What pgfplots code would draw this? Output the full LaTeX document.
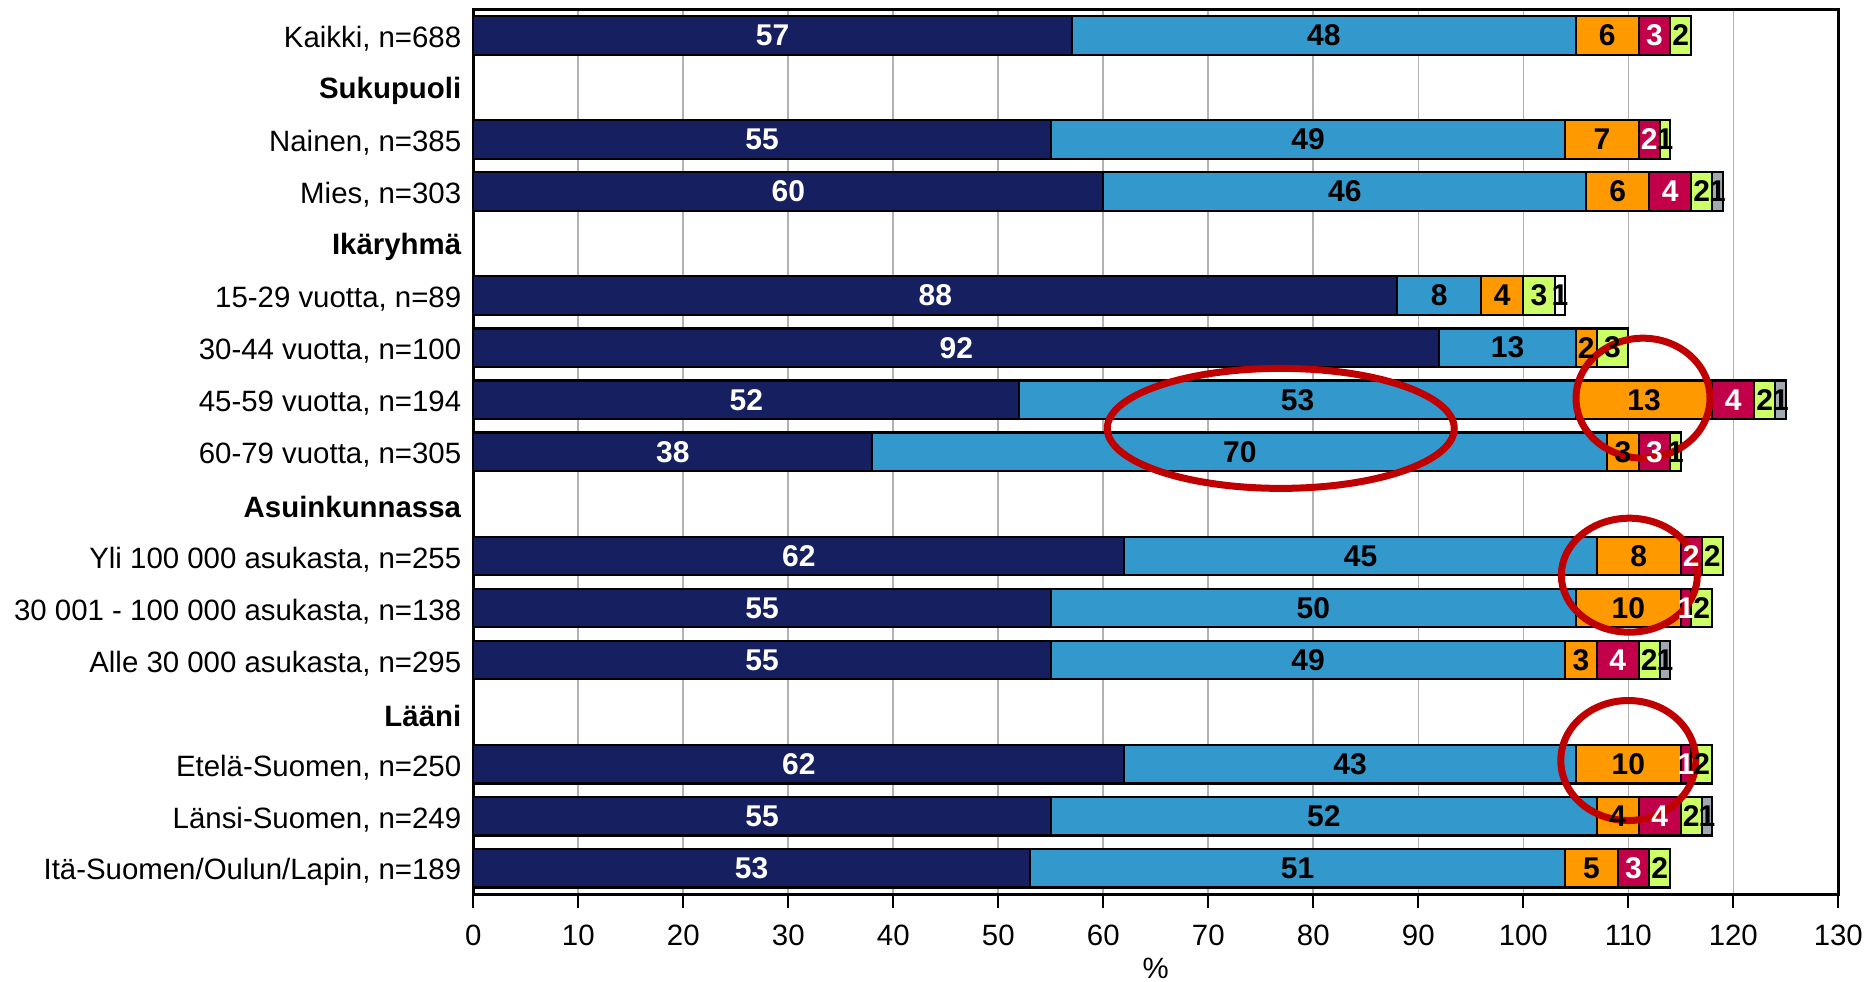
\documentclass[border=0pt]{standalone}
\usepackage{fontspec}
\setmainfont{Liberation Sans}
\usepackage{pgfplots}
\usepackage{pgfplotstable}
\pgfplotsset{compat=1.18}

\definecolor{navy}{HTML}{162060}
\definecolor{sky}{HTML}{3399CC}
\definecolor{orng}{HTML}{FF9900}
\definecolor{crim}{HTML}{C2004A}
\definecolor{lgreen}{HTML}{CCFF66}
\definecolor{slate}{HTML}{A0A8B2}
\definecolor{ringred}{HTML}{C00000}

% rows 1, 4, 9, 13 are the group headings (no bars)
\pgfplotstableread{
row a  b  c  d e f g
0   57 48 6  3 2 0 0
2   55 49 7  2 1 0 0
3   60 46 6  4 2 1 0
5   88 8  4  0 3 0 1
6   92 13 2  0 3 0 0
7   52 53 13 4 2 1 0
8   38 70 3  3 1 0 0
10  62 45 8  2 2 0 0
11  55 50 10 1 2 0 0
12  55 49 3  4 2 1 0
14  62 43 10 1 2 0 0
15  55 52 4  4 2 1 0
16  53 51 5  3 2 0 0
}\data

% middle of every segment, for the value labels
\pgfplotstablecreatecol[create col/expr={\thisrow{a}/2}]{ma}{\data}
\pgfplotstablecreatecol[create col/expr={\thisrow{a}+\thisrow{b}/2}]{mb}{\data}
\pgfplotstablecreatecol[create col/expr={\thisrow{a}+\thisrow{b}+\thisrow{c}/2}]{mc}{\data}
\pgfplotstablecreatecol[create col/expr={\thisrow{a}+\thisrow{b}+\thisrow{c}+\thisrow{d}/2}]{md}{\data}
\pgfplotstablecreatecol[create col/expr={\thisrow{a}+\thisrow{b}+\thisrow{c}+\thisrow{d}+\thisrow{e}/2}]{me}{\data}
\pgfplotstablecreatecol[create col/expr={\thisrow{a}+\thisrow{b}+\thisrow{c}+\thisrow{d}+\thisrow{e}+\thisrow{f}/2}]{mf}{\data}
\pgfplotstablecreatecol[create col/expr={\thisrow{a}+\thisrow{b}+\thisrow{c}+\thisrow{d}+\thisrow{e}+\thisrow{f}+\thisrow{g}/2}]{mg}{\data}

\pgfplotsset{
  frame/.style={
    scale only axis, width=682.5pt, height=442.5pt,
    xmin=0, xmax=130, ymin=-0.5, ymax=16.5, y dir=reverse,
  },
  seg/.style={fill=#1, draw=black, line width=1.1pt},
  lab/.style n args={2}{
    draw=none, mark=none,
    nodes near coords, point meta=explicit symbolic,
    x filter/.expression={\thisrow{#2}==0 ? nan : x},
    unbounded coords=discard,
    every node near coord/.append style={
      text=#1, anchor=center, inner sep=0pt,
      font=\fontsize{15}{17}\selectfont\bfseries},
  },
}

\begin{document}
\begin{tikzpicture}
\begin{axis}[
  frame,
  xbar stacked, bar width=0.74,
  xtick={0,10,...,130}, xtick pos=left, tick align=outside,
  major tick length=7pt,
  x tick style={black, line width=1pt},
  ytick={0,...,16}, y tick style={draw=none},
  yticklabels={
    {Kaikki, n=688\hspace{3.5pt}},
    {\textbf{Sukupuoli}\hspace{3.5pt}},
    {Nainen, n=385},
    {Mies, n=303\hspace{3pt}},
    {\textbf{Ikäryhmä}\hspace{3.5pt}},
    {15-29 vuotta, n=89},
    {30-44 vuotta, n=100},
    {45-59 vuotta, n=194},
    {60-79 vuotta, n=305},
    {\textbf{Asuinkunnassa}\hspace{3.5pt}},
    {Yli 100 000 asukasta, n=255},
    {30 001 - 100 000 asukasta, n=138},
    {Alle 30 000 asukasta, n=295},
    {\textbf{Lääni}\hspace{3.5pt}},
    {Etelä-Suomen, n=250},
    {Länsi-Suomen, n=249},
    {Itä-Suomen/Oulun/Lapin, n=189\hspace{-5pt}}},
  /pgf/number format/assume math mode=true,
  ticklabel style={font=\fontsize{14.7}{17}\selectfont},
  yticklabel style={xshift=4.5pt, yshift=-1.8pt},
  xticklabel style={yshift=-5pt},
  xlabel={\%},
  xlabel style={font=\fontsize{14.7}{17}\selectfont, at={(axis description cs:0.5,0)}, anchor=center, yshift=-37pt},
  xmajorgrids, grid style={color=black!30, line width=0.8pt},
  axis line style={line width=1.3pt},
]
\addplot[seg=navy]   table[x=a, y=row]{\data};
\addplot[seg=sky]    table[x=b, y=row]{\data};
\addplot[seg=orng]   table[x=c, y=row]{\data};
\addplot[seg=crim]   table[x=d, y=row]{\data};
\addplot[seg=lgreen] table[x=e, y=row]{\data};
\addplot[seg=slate]  table[x=f, y=row]{\data};
\addplot[seg=white]  table[x=g, y=row]{\data};
\end{axis}

% same frame again, for the value labels and the rings on top
\begin{axis}[frame, hide axis, clip=false]
\addplot[lab={white}{a}] table[x=ma, y=row, meta=a]{\data};
\addplot[lab={black}{b}] table[x=mb, y=row, meta=b]{\data};
\addplot[lab={black}{c}] table[x=mc, y=row, meta=c]{\data};
\addplot[lab={white}{d}] table[x=md, y=row, meta=d]{\data};
\addplot[lab={black}{e}] table[x=me, y=row, meta=e]{\data};
\addplot[lab={black}{f}] table[x=mf, y=row, meta=f]{\data};
\addplot[lab={black}{g}] table[x=mg, y=row, meta=g]{\data};

\draw[ringred, line width=3.5pt] (axis cs:76.9,7.55)  ellipse [x radius=86.75pt, y radius=30pt];
\draw[ringred, line width=3.5pt] (axis cs:111.4,6.97) ellipse [x radius=33.5pt, y radius=30pt];
\draw[ringred, line width=3.5pt] (axis cs:110.1,10.37) ellipse [x radius=34pt, y radius=28.5pt];
\draw[ringred, line width=3.5pt] (axis cs:110.0,13.93) ellipse [x radius=33.75pt, y radius=30pt];
\end{axis}
\pgfresetboundingbox
\path (current axis.south west) ++(-236.65pt,-43.35pt) rectangle ++(932.5pt,490.5pt);
\end{tikzpicture}
\end{document}
